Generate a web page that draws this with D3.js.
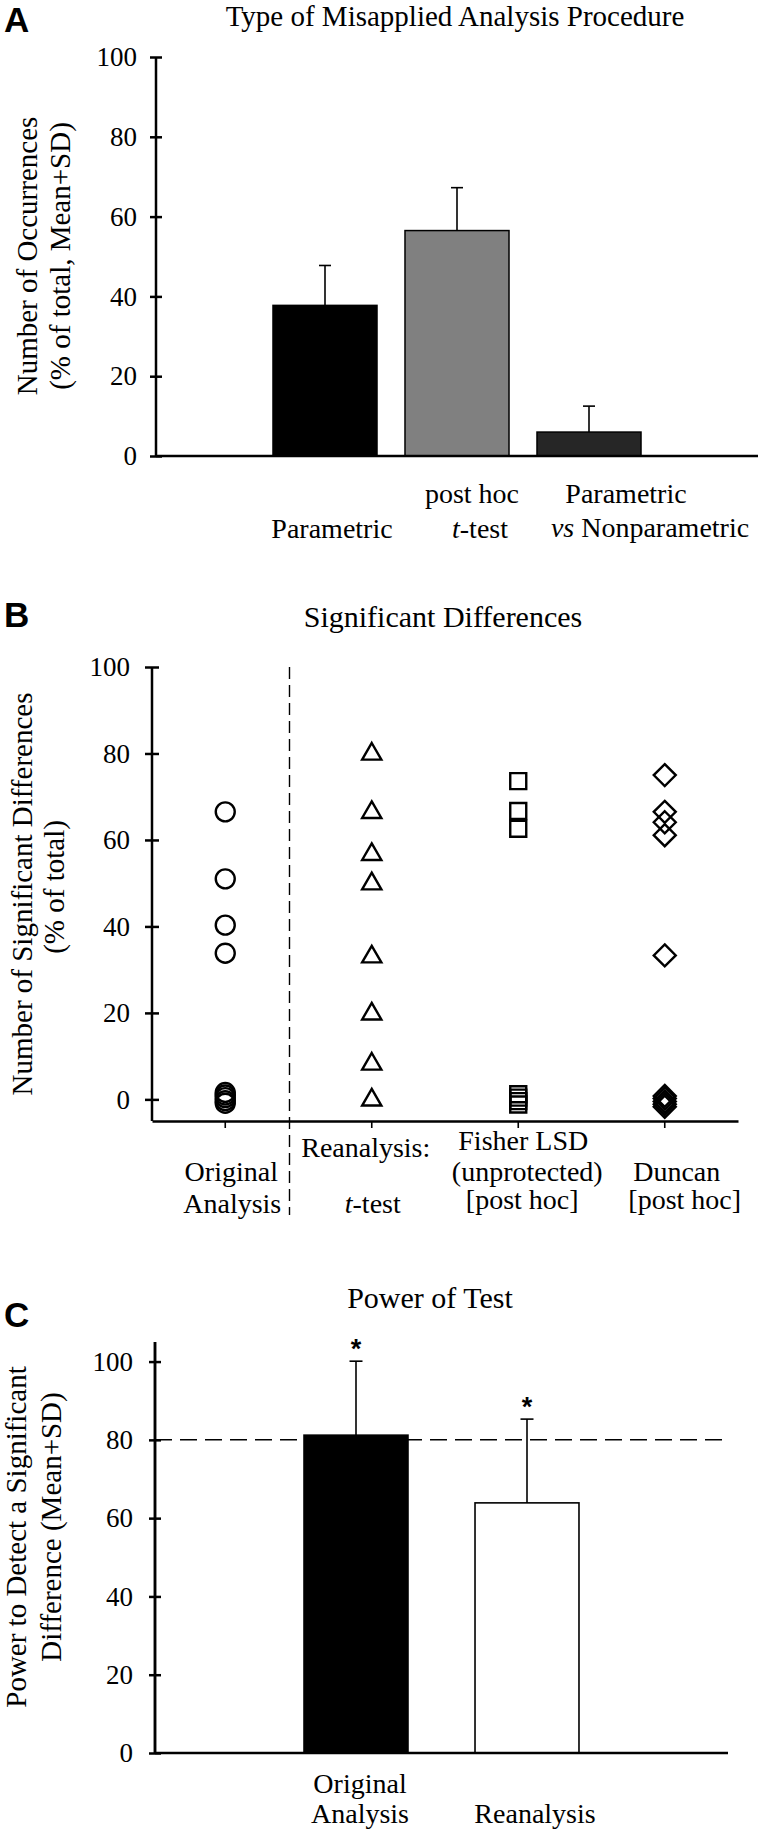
<!DOCTYPE html>
<html>
<head>
<meta charset="utf-8">
<script src="https://cdn.jsdelivr.net/npm/d3@7"></script>
<style>
  body { margin: 0; background: #fff; }
</style>
</head>
<body>
<svg id="canvas"></svg>
<script>
// Panel A: type of misapplied procedure
let procCategories = ["Parametric", "post hoc t-test", "Parametric vs Nonparametric"];
let procMean = [37.75, 56.5, 6];
let procSD = [10, 10.75, 6.5];
let procLabels = [["Parametric"], ["post hoc", "<i>t</i>-test"], ["Parametric", "<i>vs</i> Nonparametric"]];

// Panel B: significant differences (% of total)
let sigGroups = ["Original Analysis", "Reanalysis: t-test", "Fisher LSD (unprotected) [post hoc]", "Duncan [post hoc]"];
let sigOriginal = [66.5, 51, 40.3, 33.8, 1.6, 1.0, 0.4, -0.3, -0.9];
let sigTtest = [80.5, 67, 57.3, 50.5, 33.6, 20.4, 8.8, 0.5];
let sigFisher = [73.6, 66.7, 62.6, 1.2, 0.4, -0.4, -1.2];
let sigDuncan = [75, 66.5, 64.1, 61.1, 33.3, 0.8, 0.2, -0.5, -1.1, -1.7];
let sigLabels = [["Original", "Analysis"], ["Reanalysis:", "<i>t</i>-test"], ["Fisher LSD", "(unprotected)", "[post hoc]"], ["Duncan", "[post hoc]"]];

// Panel C: power of test
let powerGroups = ["Original Analysis", "Reanalysis"];
let powerMean = [81.2, 63.9];
let powerSD = [18.9, 21.4];
let powerThreshold = 80;
let powerLabels = [["Original", "Analysis"], ["Reanalysis"]];

let yTicks = [0, 20, 40, 60, 80, 100];

let width = 760;
let height = 1830;
let serif = "'Liberation Serif', 'Times New Roman', serif";

let canvas = d3.select("#canvas").attr("width", width).attr("height", height);

let richText = (sel, str) => {
  str.split(/(<i>.*?<\/i>)/).filter((s) => s).forEach((part) => {
    let it = part.startsWith("<i>");
    sel.append("tspan")
      .attr("font-style", it ? "italic" : null)
      .text(it ? part.slice(3, -4) : part);
  });
};

let panelLetter = (letter, y) => {
  canvas.append("text").attr("x", 4).attr("y", y)
    .attr("font-family", "'Liberation Sans', Arial, sans-serif")
    .attr("font-weight", "bold").attr("font-size", 35).text(letter);
};

let title = (str, x, y, size) => {
  canvas.append("text").attr("x", x).attr("y", y).attr("text-anchor", "middle")
    .attr("font-family", serif).attr("font-size", size || 30).text(str);
};

let yLabel = (lines, xs, ys) => {
  lines.forEach((line, i) => {
    canvas.append("text")
      .attr("transform", `translate(${xs[i]},${ys[i]}) rotate(-90)`)
      .attr("text-anchor", "middle").attr("dy", "0.35em")
      .attr("font-family", serif).attr("font-size", 29).text(line);
  });
};

let yAxis = (scale, x, tick, pad) => {
  let g = canvas.append("g").attr("transform", `translate(${x},0)`)
    .call(d3.axisLeft(scale).tickValues(yTicks).tickSizeInner(tick).tickSizeOuter(0).tickPadding(pad));
  g.select(".domain").remove();
  g.append("line").attr("y1", scale(scale.domain()[0])).attr("y2", scale(scale.domain()[1]))
    .attr("stroke", "#000").attr("stroke-width", 2.5);
  g.selectAll(".tick line").attr("x1", -tick).attr("x2", tick).attr("stroke-width", 2.5);
  g.selectAll(".tick text").attr("font-family", serif).attr("font-size", 27).attr("fill", "#000");
  return g;
};

let errorBars = (x, y, means, sds, cats, capW) => {
  let g = canvas.append("g").attr("stroke", "#000").attr("stroke-width", 1.6);
  cats.forEach((c, i) => {
    let cx = x(c) + x.bandwidth() / 2;
    g.append("line").attr("x1", cx).attr("x2", cx)
      .attr("y1", y(means[i])).attr("y2", y(means[i] + sds[i]));
    g.append("line").attr("x1", cx - capW / 2).attr("x2", cx + capW / 2)
      .attr("y1", y(means[i] + sds[i])).attr("y2", y(means[i] + sds[i]));
  });
};

let catLabels = (x, cats, labels, layout) => {
  cats.forEach((c, i) => {
    let cx = x(c) + x.bandwidth() / 2;
    labels[i].forEach((line, j) => {
      let t = canvas.append("text").attr("x", cx + layout[i][j][0]).attr("y", layout[i][j][1])
        .attr("text-anchor", "middle").attr("font-family", serif).attr("font-size", 28);
      richText(t, line);
    });
  });
};

// ---------- Panel A ----------
panelLetter("A", 32);
title("Type of Misapplied Analysis Procedure", 455, 26, 29);
yLabel(["Number of Occurrences", "(% of total, Mean+SD)"], [27, 60], [256, 256]);

let xA = d3.scaleBand().domain(procCategories).range([259, 655]).paddingInner(0.212).paddingOuter(0.106);
let yA = d3.scaleLinear().domain([0, 100]).range([456, 57]);
let procFill = ["#000000", "#808080", "#262626"];

canvas.append("g").selectAll("rect").data(procCategories).enter().append("rect")
  .attr("x", (d) => xA(d)).attr("width", xA.bandwidth())
  .attr("y", (d, i) => yA(procMean[i])).attr("height", (d, i) => yA(0) - yA(procMean[i]))
  .attr("fill", (d, i) => procFill[i]).attr("stroke", "#000").attr("stroke-width", 1.5);
errorBars(xA, yA, procMean, procSD, procCategories, 12);
yAxis(yA, 156, 6, 13);
canvas.append("line").attr("x1", 156).attr("x2", 758).attr("y1", yA(0)).attr("y2", yA(0))
  .attr("stroke", "#000").attr("stroke-width", 2.5);
catLabels(xA, procCategories, procLabels, [[[7, 538]], [[15, 503], [23, 538]], [[37, 503], [61, 537]]]);

// ---------- Panel B ----------
panelLetter("B", 627);
title("Significant Differences", 443, 627);
yLabel(["Number of Significant Differences", "(% of total)"], [22, 54], [894, 887]);

let xB = d3.scaleBand().domain(sigGroups).range([152, 738]);
let yB = d3.scaleLinear().domain([-5, 100]).range([1121, 667]);

// divider between original and reanalysis
let divX = xB(sigGroups[1]) - 9;
canvas.append("line")
  .attr("x1", divX).attr("x2", divX).attr("y1", yB(100)).attr("y2", 1215)
  .attr("stroke", "#000").attr("stroke-width", 1.4).attr("stroke-dasharray", "12,6");

let triangle = {
  draw(ctx, size) {
    let s = Math.sqrt((4 * size) / Math.sqrt(3));
    let h = (s * Math.sqrt(3)) / 2;
    ctx.moveTo(0, -h / 2); ctx.lineTo(s / 2, h / 2); ctx.lineTo(-s / 2, h / 2); ctx.closePath();
  }
};
let diamond = {
  draw(ctx, size) {
    let r = Math.sqrt(size / 2);
    ctx.moveTo(0, -r); ctx.lineTo(r, 0); ctx.lineTo(0, r); ctx.lineTo(-r, 0); ctx.closePath();
  }
};
let sigSeries = [sigOriginal, sigTtest, sigFisher, sigDuncan];
let sigSymbols = [
  d3.symbol().type(d3.symbolCircle).size(283),
  d3.symbol().type(triangle).size(160),
  d3.symbol().type(d3.symbolSquare).size(256),
  d3.symbol().type(diamond).size(242)
];

let axB = canvas.append("g").attr("transform", `translate(0,${yB(-5)})`)
  .call(d3.axisBottom(xB).tickSizeInner(7).tickSizeOuter(0).tickFormat(""));
axB.select(".domain").attr("stroke-width", 2.5);
axB.selectAll(".tick line").attr("stroke-width", 1.6);

sigSeries.forEach((vals, k) => {
  canvas.append("g").selectAll("path").data(vals).enter().append("path")
    .attr("d", sigSymbols[k])
    .attr("transform", (d) => `translate(${xB(sigGroups[k]) + xB.bandwidth() / 2},${yB(d)})`)
    .attr("fill", "none").attr("stroke", "#000").attr("stroke-width", 2.4);
});

yAxis(yB, 152, 7, 15);
catLabels(xB, sigGroups, sigLabels, [
  [[6, 1181], [7, 1213]],
  [[-6, 1157], [1, 1213]],
  [[5, 1150], [9, 1181], [4, 1209]],
  [[12, 1181], [20, 1209]]
]);

// ---------- Panel C ----------
panelLetter("C", 1327);
title("Power of Test", 430, 1308);
yLabel(["Power to Detect a Significant", "Difference (Mean+SD)"], [16, 51], [1537, 1527]);

let xC = d3.scaleBand().domain(powerGroups).range([270.5, 612.5]).paddingInner(0.392).paddingOuter(0.196);
let yC = d3.scaleLinear().domain([0, 105]).range([1753, 1342]);
let powerFill = ["#000000", "#ffffff"];

canvas.append("line").attr("x1", 155).attr("x2", 723).attr("y1", yC(powerThreshold)).attr("y2", yC(powerThreshold))
  .attr("stroke", "#000").attr("stroke-width", 1.5).attr("stroke-dasharray", "17,8");

canvas.append("g").selectAll("rect").data(powerGroups).enter().append("rect")
  .attr("x", (d) => xC(d)).attr("width", xC.bandwidth())
  .attr("y", (d, i) => yC(powerMean[i])).attr("height", (d, i) => yC(0) - yC(powerMean[i]))
  .attr("fill", (d, i) => powerFill[i]).attr("stroke", "#000").attr("stroke-width", 1.6);
errorBars(xC, yC, powerMean, powerSD, powerGroups, 13);

// significance stars
canvas.append("g").selectAll("text").data(powerGroups).enter().append("text")
  .attr("x", (d) => xC(d) + xC.bandwidth() / 2)
  .attr("y", (d, i) => yC(powerMean[i] + powerSD[i]) - 3)
  .attr("text-anchor", "middle").attr("font-family", "'Liberation Sans', Arial, sans-serif")
  .attr("font-weight", "bold").attr("font-size", 27).text("*");

yAxis(yC, 155, 6, 16);
canvas.append("line").attr("x1", 155).attr("x2", 728).attr("y1", yC(0)).attr("y2", yC(0))
  .attr("stroke", "#000").attr("stroke-width", 2.5);
canvas.append("line").attr("x1", 155).attr("x2", 155).attr("y1", yC(0)).attr("y2", yC(105))
  .attr("stroke", "#000").attr("stroke-width", 2.5);
catLabels(xC, powerGroups, powerLabels, [[[4, 1793], [4, 1823]], [[8, 1823]]]);
</script>
</body>
</html>
